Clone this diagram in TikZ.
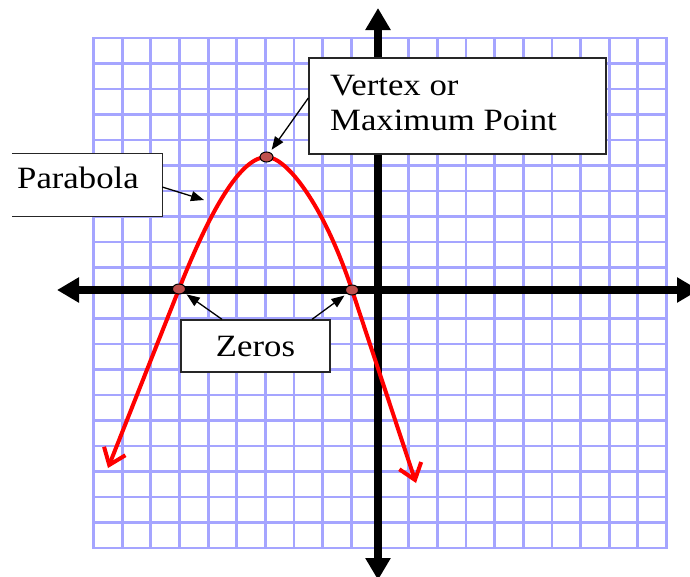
\documentclass[tikz,border=0pt]{standalone}
\usepackage{fontspec}
\setmainfont{Liberation Serif}[FakeStretch=1.12]
\usetikzlibrary{arrows.meta,shapes.geometric}
\definecolor{gridblue}{RGB}{165,165,255}
\definecolor{ptfill}{RGB}{192,80,77}
\begin{document}
\begin{tikzpicture}[x=1pt,y=-1pt,
  gridline/.style={gridblue, line width=2.8pt, line cap=rect},
  axisline/.style={black, line width=8pt, {Triangle[length=22pt,width=24pt]}-{Triangle[length=22pt,width=24pt]}},
  curveline/.style={red, line width=4pt, line join=round, {Straight Barb[length=15pt,width=23pt]}-{Straight Barb[length=15pt,width=23pt]}},
  ptdot/.style={ellipse, draw=black, line width=1pt, fill=ptfill, minimum width=13pt, minimum height=10pt, inner sep=0pt},
  labelbox/.style={draw=black!85, line width=1.3pt, fill=white, inner sep=0pt},
  boxedge/.style={draw=black!85, line width=1.3pt},
  labeltext/.style={font=\fontsize{31}{35}\selectfont, inner sep=0pt},
  pointer/.style={black, line width=1.3pt, -{Triangle[length=13pt,width=10pt]}}]
\useasboundingbox (0,0) rectangle (690,576);
\clip (0,0) rectangle (690,576);
% grid
\foreach \i in {0,...,20} {
  \draw[gridline] ({93.5+28.65*\i},38) -- ({93.5+28.65*\i},548);
  \draw[gridline] (93.5,{38+25.5*\i}) -- (666.5,{38+25.5*\i});
}
% axes
\coordinate (xl) at (57,290);
\coordinate (xr) at (699,290);
\coordinate (yt) at (378,8);
\coordinate (yb) at (378,580);
\draw[axisline] (xl) -- (xr);
\draw[axisline] (yb) -- (yt);
% curve
\coordinate (cl) at (108,468);
\coordinate (cr) at (416,483);
\coordinate (z1) at (179,289);
\coordinate (z2) at (352,290);
\coordinate (v) at (266.5,157);
\draw[curveline] (cl) -- (z1) .. controls (213.9,201) and (243.1,157) .. (v)
  .. controls (286.5,157) and (323.6,204.6) .. (z2) -- (cr);
% points
\node[ptdot] (z1pt) at (z1) {};
\node[ptdot] (z2pt) at (z2) {};
\node[ptdot] (vpt) at (v) {};
% boxes
\node[labelbox, minimum width=297pt, minimum height=96pt] (vbox) at (457.5,106) {};
\node[labeltext, anchor=base west] (vtext1) at (330,95) {Vertex or};
\node[labeltext, anchor=base west] (vtext2) at (330,130) {Maximum Point};
\node[fill=white, draw=none, inner sep=0pt, minimum width=150pt, minimum height=62pt] (pbox) at (87,185) {};
\draw[boxedge] (pbox.north west) -- (pbox.north east) -- (pbox.south east) -- (pbox.south west);
\node[labeltext, anchor=base west] (ptext) at (17,188) {Parabola};
\node[labelbox, labeltext, minimum width=149pt, minimum height=52pt] (zbox) at (255.5,346) {Zeros};
% pointers
\coordinate (ptip) at (204,200);
\draw[pointer] ([yshift=-2pt]pbox.east) -- (ptip);
\draw[pointer, shorten >=3pt] ([yshift=8pt]vbox.west) -- (vpt);
\draw[pointer, shorten >=3pt] ([xshift=-33.5pt]zbox.north) -- (z1pt);
\draw[pointer, shorten >=3pt] ([xshift=56.5pt]zbox.north) -- (z2pt);
\end{tikzpicture}
\end{document}
